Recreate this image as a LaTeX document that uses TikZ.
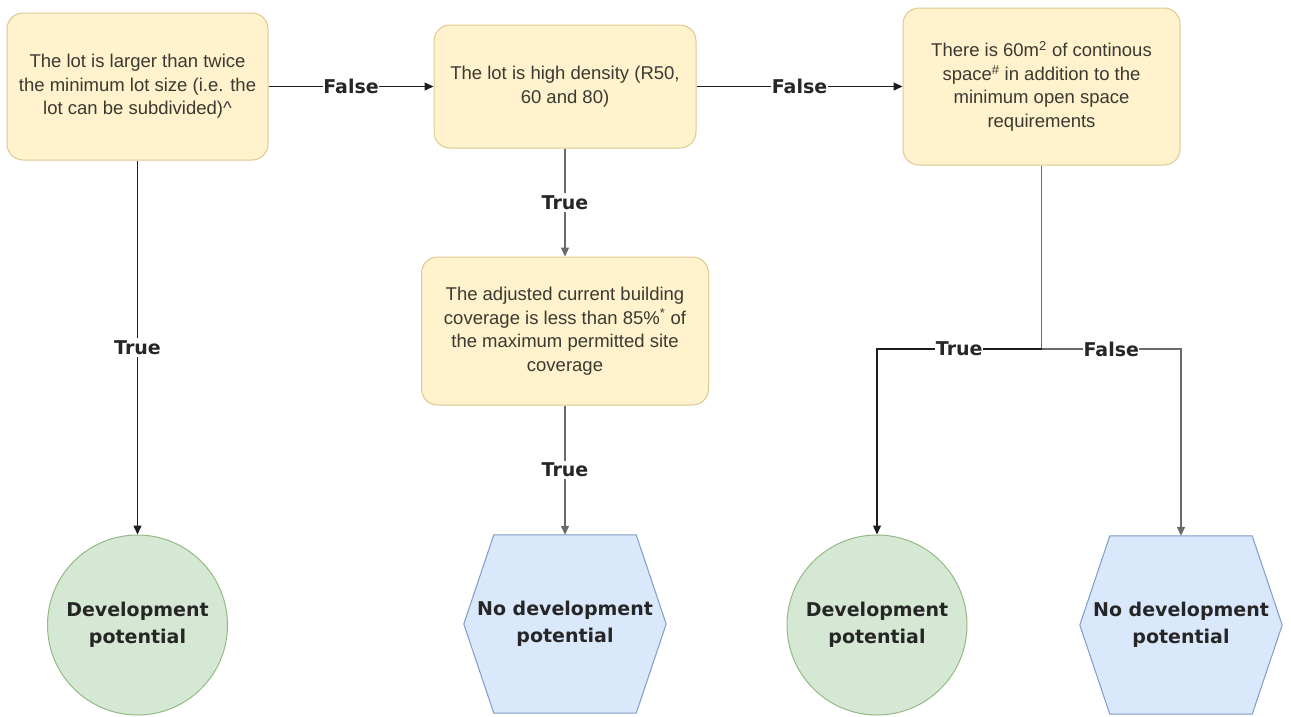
\documentclass[tikz,border=0pt]{standalone}
\usepackage{fontspec}
\setmainfont{Liberation Sans}
\newfontfamily\lblfont{DejaVu Sans}
\usetikzlibrary{arrows.meta,calc,backgrounds}
\definecolor{boxfill}{HTML}{FFF2CC}
\definecolor{boxline}{HTML}{DCC890}
\definecolor{grnfill}{HTML}{D5E8D4}
\definecolor{grnline}{HTML}{94B985}
\definecolor{blufill}{HTML}{DAE8FC}
\definecolor{bluline}{HTML}{7D9CC9}
\definecolor{textc}{HTML}{3A3A32}
\definecolor{darkline}{HTML}{1E1E1E}
\definecolor{grayline}{HTML}{6A6A6A}
\begin{document}
\begin{tikzpicture}[x=1pt,y=-1pt,
  box/.style={draw=boxline, fill=boxfill, line width=1pt, rounded corners=16pt, align=center,
    text=textc, inner sep=0pt, font=\fontsize{18.5}{23.5}\selectfont},
  term/.style={font=\lblfont\bfseries\fontsize{19}{27}\selectfont, text=black!85, align=center, inner sep=0pt},
  termcircle/.style={term, circle, draw=grnline, fill=grnfill, line width=1pt, minimum size=180pt},
  termhex/.style={term, minimum width=202pt, minimum height=178pt},
  hexshape/.style={draw=bluline, fill=blufill, line width=1pt},
  lbl/.style={font=\lblfont\bfseries\fontsize{19}{19}\selectfont, fill=white, inner xsep=0.5pt, inner ysep=2pt, text=black!85},
  conn/.style={draw=darkline, line width=1.3pt, -{Triangle[length=9pt,width=8pt]}},
  conngray/.style={conn, draw=grayline},
  plainline/.style={draw=grayline, line width=1.3pt}
]
\useasboundingbox (0,0) rectangle (1291,716);

% decision boxes
\node[box, minimum width=261pt, minimum height=147pt] (b1) at (137.5,86.5)
  {The lot is larger than twice\\the minimum lot size (i.e. the\\lot can be subdivided)\textasciicircum};
\node[box, minimum width=262pt, minimum height=123pt] (b2) at (565,86.5)
  {The lot is high density (R50,\\60 and 80)};
\node[box, minimum width=277pt, minimum height=157pt] (b3) at (1041.5,86.5)
  {There is 60m\textsuperscript{2} of continous\\space\textsuperscript{\#} in addition to the\\minimum open space\\requirements};
\node[box, minimum width=287pt, minimum height=148pt] (b4) at (565,331)
  {The adjusted current building\\coverage is less than 85\%\textsuperscript{*} of\\the maximum permitted site\\coverage};

% terminals
\node[termcircle] (c1) at (137.5,625) {Development\\potential};
\node[termcircle] (c2) at (877,625) {Development\\potential};
\node[termhex] (h1) at (565,624) {No development\\potential};
\node[termhex] (h2) at (1181,625) {No development\\potential};

\begin{scope}[on background layer]
  \foreach \h in {h1,h2}{
    \draw[hexshape] (\h.west) -- ($(\h.north west)+(30,0)$) -- ($(\h.north east)+(-30,0)$)
      -- (\h.east) -- ($(\h.south east)+(-30,0)$) -- ($(\h.south west)+(30,0)$) -- cycle;
  }
\end{scope}

% connectors
\draw[conn] (b1) -- node[lbl]{False} (b2);
\draw[conn] (b2) -- node[lbl]{False} (b3);
\draw[conn] (b1) -- node[lbl]{True} (c1);
\draw[conngray] (b2) -- node[lbl]{True} (b4);
\draw[conngray] (b4) -- node[lbl]{True} (h1);

\coordinate (j) at (1041.5,349);
\draw[plainline] (b3.south) -- (j);
\draw[conn] (j) -- node[lbl]{True} (j -| c2) -- (c2.north);
\draw[conngray] (j) -- node[lbl]{False} (j -| h2) -- (h2.north);
\end{tikzpicture}
\end{document}
